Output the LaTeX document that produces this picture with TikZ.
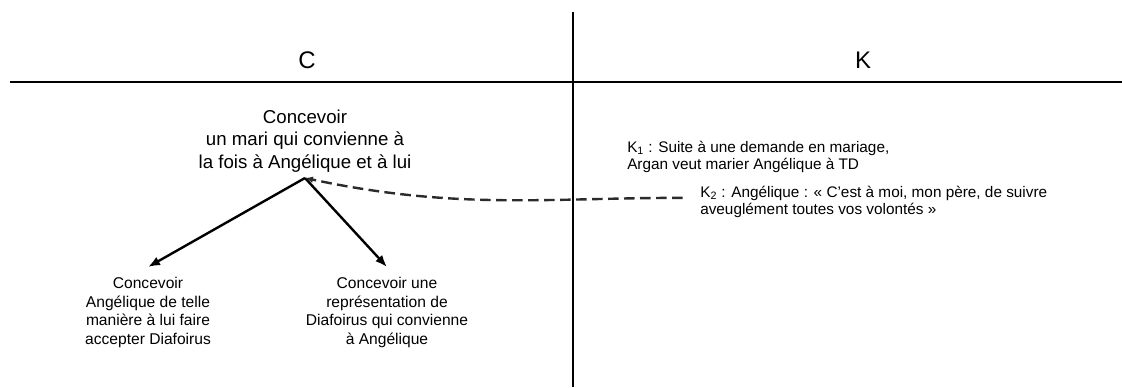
\documentclass[tikz,border=0pt]{standalone}
\usepackage{fontspec}
\setmainfont{Liberation Sans}
\usepackage{tikz}
\usetikzlibrary{arrows.meta}
\definecolor{lineColor}{HTML}{000000}
\definecolor{dashColor}{HTML}{2B2B2B}

\begin{document}
\begin{tikzpicture}[
		x=0.75pt, y=-0.75pt,
		frame/.style={draw=lineColor, line width=0.8pt},
		colhead/.style={font=\fontsize{18}{21}\selectfont},
		goalbox/.style={align=center, inner sep=4pt, font=\fontsize{14}{17}\selectfont},
		subgoal/.style={align=center, inner xsep=0pt, inner ysep=7.5pt, font=\fontsize{11.7}{14}\selectfont},
		fact/.style={align=left, inner sep=0pt, font=\fontsize{11.5}{12.5}\selectfont},
		tree/.style={-{Latex[length=9pt, width=7pt]}, line width=1.8pt},
		link/.style={-{Latex[length=6pt, width=5pt]}, line width=1.8pt, draw=dashColor, dash pattern=on 8pt off 4pt}
		]
		\useasboundingbox (0,0) rectangle (1122,387);

		% Column split
		\draw[frame] (10,82) -- (1122,82);
		\draw[frame] (573,12) -- (573,387);
		\node[colhead] (hc) at (307,60) {C};
		\node[colhead] (hk) at (863,60) {K};

		% Concepts
		\node[goalbox, anchor=south] (top) at (305,178) {Concevoir\\un mari qui convienne à\\la fois à Angélique et à lui};
		\node[subgoal, anchor=north] (left) at (148,267) {Concevoir\\Angélique de telle\\manière à lui faire\\accepter Diafoirus};
		\node[subgoal, anchor=north] (right) at (387,267) {Concevoir une\\représentation de\\Diafoirus qui convienne\\à Angélique};

		% Knowledge
		\node[fact, anchor=north west] (k1) at (627,141) {K\textsubscript{1} : Suite à une demande en mariage,\\Argan veut marier Angélique à TD};
		\node[fact, anchor=north west] (k2) at (700,186) {K\textsubscript{2} : Angélique : « C'est à moi, mon père, de suivre\\aveuglément toutes vos volontés »};

		% Links
		\draw[tree] (top.south) -- (left.north);
		\draw[tree] (top.south) -- (right.north);
		\draw[link, shorten <=13pt] ([yshift=3pt]k2.west) to[out=180, in=-12] (top.south);
	\end{tikzpicture}
\end{document}
